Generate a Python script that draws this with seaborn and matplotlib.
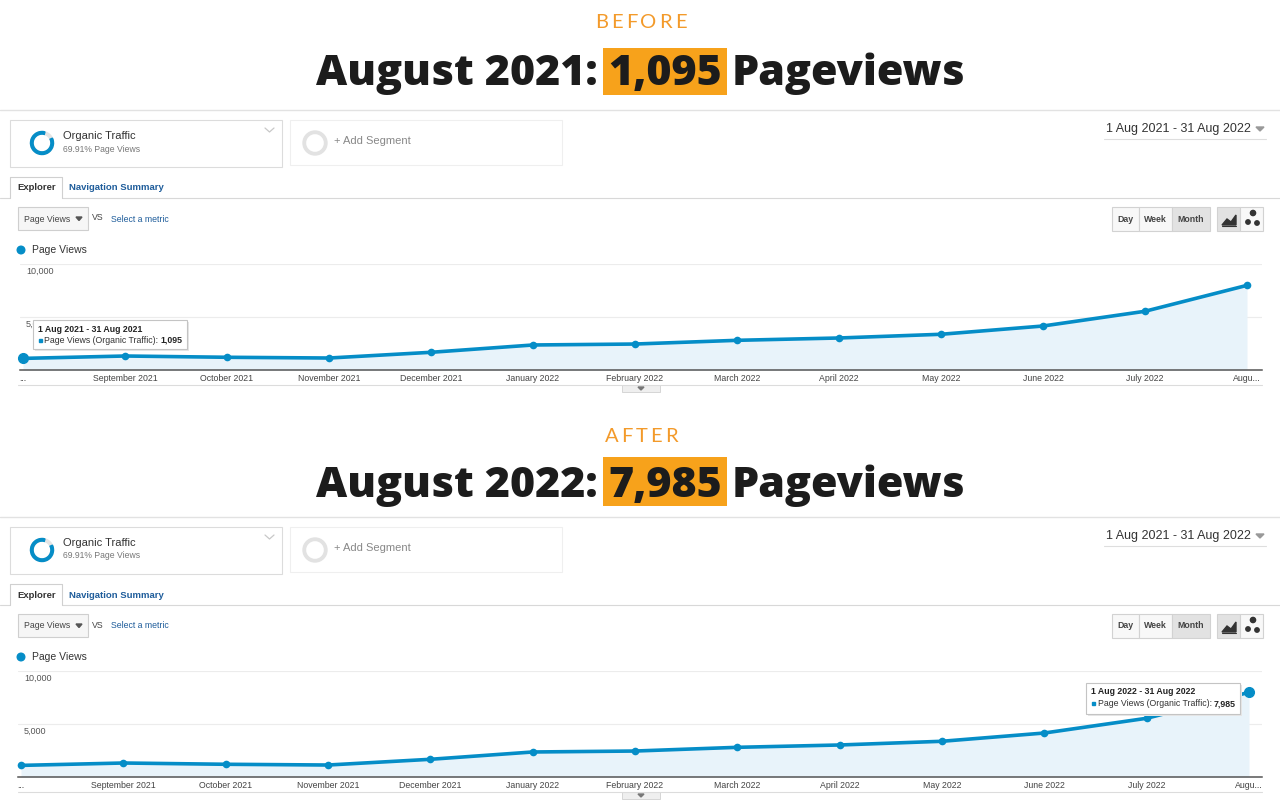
import matplotlib
matplotlib.use('Agg')
import matplotlib.pyplot as plt
import seaborn as sns
import pandas as pd
from matplotlib.patches import Rectangle, Wedge, Circle, Polygon

# data (same series in both panels)
months = ['Aug 2021', 'Sep 2021', 'Oct 2021', 'Nov 2021', 'Dec 2021', 'Jan 2022', 'Feb 2022',
          'Mar 2022', 'Apr 2022', 'May 2022', 'Jun 2022', 'Jul 2022', 'Aug 2022']
tick_labels = ['...', 'September 2021', 'October 2021', 'November 2021', 'December 2021',
               'January 2022', 'February 2022', 'March 2022', 'April 2022', 'May 2022',
               'June 2022', 'July 2022', 'Augu...']
page_views = [1095, 1320, 1200, 1130, 1670, 2360, 2450, 2800, 3020, 3370, 4150, 5540, 7985]
y_ticks = [5000, 10000]
y_tick_labels = ['5,000', '10,000']

panel_tags = ['BEFORE', 'AFTER']
title_dates = ['August 2021:', 'August 2022:']
title_values = ['1,095', '7,985']
tooltip_ranges = ['1 Aug 2021 - 31 Aug 2021', '1 Aug 2022 - 31 Aug 2022']
highlight_idx = [0, 12]
segment_name = 'Organic Traffic'
segment_share = '69.91% Page Views'
date_range = '1 Aug 2021 - 31 Aug 2022'

GA_BLUE = '#058DC7'
ORANGE = '#F7A21B'
TAG_ORANGE = '#F39A2A'
LINK_BLUE = '#1F5D9B'

df = pd.DataFrame({'month': months, 'idx': range(len(months)), 'views': page_views})

sns.set_theme(style='white')
plt.rcParams['font.family'] = ['Liberation Sans', 'DejaVu Sans']

fig = plt.figure(figsize=(12.8, 8), dpi=100)
ov = fig.add_axes([0, 0, 1, 1], zorder=5)
ov.set_xlim(0, 1280)
ov.set_ylim(800, 0)
ov.axis('off')
ov.patch.set_visible(False)
renderer = fig.canvas.get_renderer()


def text_width(t):
    return t.get_window_extent(renderer).width


def draw_tag(y, tag):
    # letter-spaced orange label
    chars = [ov.text(0, y, c, fontsize=14.5, color=TAG_ORANGE, family='Lato',
                     fontweight='normal', va='center') for c in tag]
    widths = [text_width(c) for c in chars]
    track = 3
    total = sum(widths) + track * (len(chars) - 1)
    x = 641 - total / 2
    for c, w in zip(chars, widths):
        c.set_x(x)
        x += w + track


def draw_title(y_base, pre, num, box_top, box_bot):
    kw = dict(fontsize=31, fontweight=800, family='Open Sans', color='#1c1c1c', va='baseline')
    t1 = ov.text(0, y_base, pre, **kw)
    t2 = ov.text(0, y_base, num, **kw)
    t3 = ov.text(0, y_base, 'Pageviews', **kw)
    w1, w2, w3 = text_width(t1), text_width(t2), text_width(t3)
    gap, pad = 5, 5
    total = w1 + gap + pad + w2 + pad + gap + w3
    x0 = 641 - total / 2
    t1.set_x(x0)
    bx = x0 + w1 + gap
    ov.add_patch(Rectangle((bx, box_top), w2 + 2 * pad, box_bot - box_top,
                           facecolor=ORANGE, edgecolor='none', zorder=1))
    t2.set_x(bx + pad)
    t3.set_x(bx + w2 + 2 * pad + gap)
    for t in (t1, t2, t3):
        t.set_zorder(2)


def draw_ui(dy):
    ov.plot([0, 1280], [110 + dy, 110 + dy], color='#e2e2e2', lw=1)
    # segment boxes
    ov.add_patch(Rectangle((10, 120 + dy), 272, 47, facecolor='white', edgecolor='#dcdcdc', lw=0.8))
    ov.add_patch(Wedge((42, 143 + dy), 11.5, 0, 360, width=2.6, color='#e4e4e4'))
    ov.add_patch(Wedge((42, 143 + dy), 11.5, 335, 285, width=2.6, color=GA_BLUE))
    ov.text(63, 136 + dy, segment_name, fontsize=8, color='#333', va='center')
    ov.text(63, 149 + dy, segment_share, fontsize=6.2, color='#777', va='center')
    ov.plot([265, 269.5, 274], [128 + dy, 132 + dy, 128 + dy], color='#c8c8c8', lw=0.9)
    ov.add_patch(Rectangle((290, 120 + dy), 272, 45, facecolor='white', edgecolor='#efefef', lw=0.8))
    ov.add_patch(Wedge((315, 143 + dy), 12, 0, 360, width=2.5, color='#e2e2e2'))
    ov.text(334, 141 + dy, '+ Add Segment', fontsize=8, color='#888', va='center')
    # date range
    ov.text(1251, 129 + dy, date_range, fontsize=9, color='#333', va='center', ha='right')
    ov.add_patch(Polygon([[1256, 127 + dy], [1264, 127 + dy], [1260, 131 + dy]], color='#999'))
    ov.plot([1104, 1266], [139 + dy, 139 + dy], color='#dedede', lw=0.8)
    # tabs
    ov.plot([0, 10], [198 + dy, 198 + dy], color='#d8d8d8', lw=0.8)
    ov.plot([62, 1280], [198 + dy, 198 + dy], color='#d8d8d8', lw=0.8)
    ov.plot([10, 10, 62, 62], [198 + dy, 177 + dy, 177 + dy, 198 + dy], color='#d0d0d0', lw=0.8)
    ov.text(17, 188 + dy, 'Explorer', fontsize=6.8, fontweight='bold', color='#333', va='center')
    ov.text(69, 188 + dy, 'Navigation Summary', fontsize=6.8, fontweight='bold', color=LINK_BLUE, va='center')
    # metric selector
    ov.add_patch(Rectangle((18, 207 + dy), 70, 23, facecolor='#f6f6f6', edgecolor='#cfcfcf', lw=0.8))
    ov.text(24, 219 + dy, 'Page Views', fontsize=6.3, color='#444', va='center')
    ov.add_patch(Polygon([[76, 217 + dy], [82, 217 + dy], [79, 220.5 + dy]], color='#555'))
    ov.text(92, 218 + dy, 'VS', fontsize=6.3, color='#444', va='center')
    ov.text(111, 219 + dy, 'Select a metric', fontsize=6.3, color=LINK_BLUE, va='center')
    # day / week / month
    for x0, x1, lab, face in [(1112, 1139, 'Day', '#f8f8f8'), (1139, 1172, 'Week', '#f8f8f8'),
                              (1172, 1210, 'Month', '#e2e2e2')]:
        ov.add_patch(Rectangle((x0, 207 + dy), x1 - x0, 24, facecolor=face, edgecolor='#d2d2d2', lw=0.8))
        ov.text((x0 + x1) / 2, 219 + dy, lab, fontsize=6.3, fontweight='bold', color='#444',
                va='center', ha='center')
    ov.add_patch(Rectangle((1217, 207 + dy), 23, 24, facecolor='#e2e2e2', edgecolor='#d2d2d2', lw=0.8))
    ov.add_patch(Rectangle((1240, 207 + dy), 23, 24, facecolor='#f8f8f8', edgecolor='#d2d2d2', lw=0.8))
    ov.add_patch(Polygon([[1222, 225 + dy], [1227, 219 + dy], [1231, 222 + dy], [1236, 215 + dy],
                          [1236, 225 + dy]], color='#333'))
    ov.plot([1222, 1236], [226 + dy, 226 + dy], color='#333', lw=0.8)
    ov.add_patch(Circle((1253, 213 + dy), 2.6, color='#333'))
    ov.add_patch(Circle((1248, 222 + dy), 2.2, color='#333'))
    ov.add_patch(Circle((1257, 223 + dy), 2.2, color='#333'))
    # legend
    ov.add_patch(Circle((21, 250 + dy), 3.8, color=GA_BLUE))
    ov.text(32, 250 + dy, 'Page Views', fontsize=7.5, color='#333', va='center')
    # bottom separator and handle
    ov.plot([18, 1262], [385 + dy, 385 + dy], color='#dcdcdc', lw=0.8)
    ov.add_patch(Rectangle((622, 385 + dy), 38, 7, facecolor='#efefef', edgecolor='#d0d0d0', lw=0.6))
    ov.add_patch(Polygon([[638, 387 + dy], [644, 387 + dy], [641, 390 + dy]], color='#777'))


def draw_chart(left, right, top, bottom, x_first, x_last, hi):
    ax = fig.add_axes([left / 1280, 1 - bottom / 800, (right - left) / 1280, (bottom - top) / 800])
    unit = (x_last - x_first) / 12
    ax.set_xlim(-(x_first - left) / unit, 12 + (right - x_last) / unit)
    ax.set_ylim(0, 10000)
    ax.fill_between(df['idx'], df['views'], color='#E8F3FA', lw=0)
    sns.lineplot(data=df, x='idx', y='views', ax=ax, color=GA_BLUE, lw=2.6, marker='o',
                 markersize=5.5, markeredgewidth=0, clip_on=False)
    ax.plot(df['idx'][hi], df['views'][hi], 'o', color=GA_BLUE, markersize=7, clip_on=False)
    ax.set_xticks(df['idx'])
    ax.set_xticklabels(tick_labels, fontsize=6.3, color='#444')
    ax.tick_params(axis='x', length=0, pad=3)
    ax.set_yticks(y_ticks)
    ax.set_yticklabels([])
    ax.tick_params(axis='y', length=0)
    ax.grid(axis='y', color='#ececec', lw=0.8)
    ax.grid(axis='x', visible=False)
    ax.set_xlabel('')
    ax.set_ylabel('')
    for s in ['top', 'left', 'right']:
        ax.spines[s].set_visible(False)
    ax.spines['bottom'].set_color('#555')
    ax.spines['bottom'].set_linewidth(1.1)
    ax.set_facecolor('none')
    for v, lab in zip(y_ticks, y_tick_labels):
        ax.text(6 / (right - left), v - 250, lab, fontsize=6.5, color='#555', va='top',
                transform=ax.get_yaxis_transform())
    return ax


def draw_tooltip(x, y, w, h, rng, value):
    ov.add_patch(Rectangle((x + 1.5, y + 1.5), w, h, facecolor='#e6e6e6', edgecolor='none'))
    ov.add_patch(Rectangle((x, y), w, h, facecolor='white', edgecolor='#c4c4c4', lw=0.8))
    ov.text(x + 5, y + 9, rng, fontsize=6.3, fontweight='bold', color='#222', va='center')
    ov.add_patch(Rectangle((x + 5.5, y + 18.5), 3.5, 3.5, color=GA_BLUE))
    t = ov.text(x + 11.5, y + 20.5, 'Page Views (Organic Traffic): ', fontsize=6.3, color='#333', va='center')
    ov.text(x + 11.5 + text_width(t), y + 20.5, value, fontsize=6.3, fontweight='bold',
            color='#222', va='center')


# BEFORE panel
draw_tag(22, panel_tags[0])
draw_title(85, title_dates[0], title_values[0], 48, 95)
draw_ui(0)
draw_chart(20, 1262, 264, 370, 23, 1247, highlight_idx[0])
draw_tooltip(33, 320, 154, 29, tooltip_ranges[0], title_values[0])

# AFTER panel
draw_tag(436, panel_tags[1])
draw_title(497, title_dates[1], title_values[1], 457, 506)
draw_ui(407)
draw_chart(18, 1262, 671, 777, 21, 1249, highlight_idx[1])
draw_tooltip(1086, 683, 154, 31, tooltip_ranges[1], title_values[1])

fig.savefig('out.png', dpi=100, facecolor='white')
